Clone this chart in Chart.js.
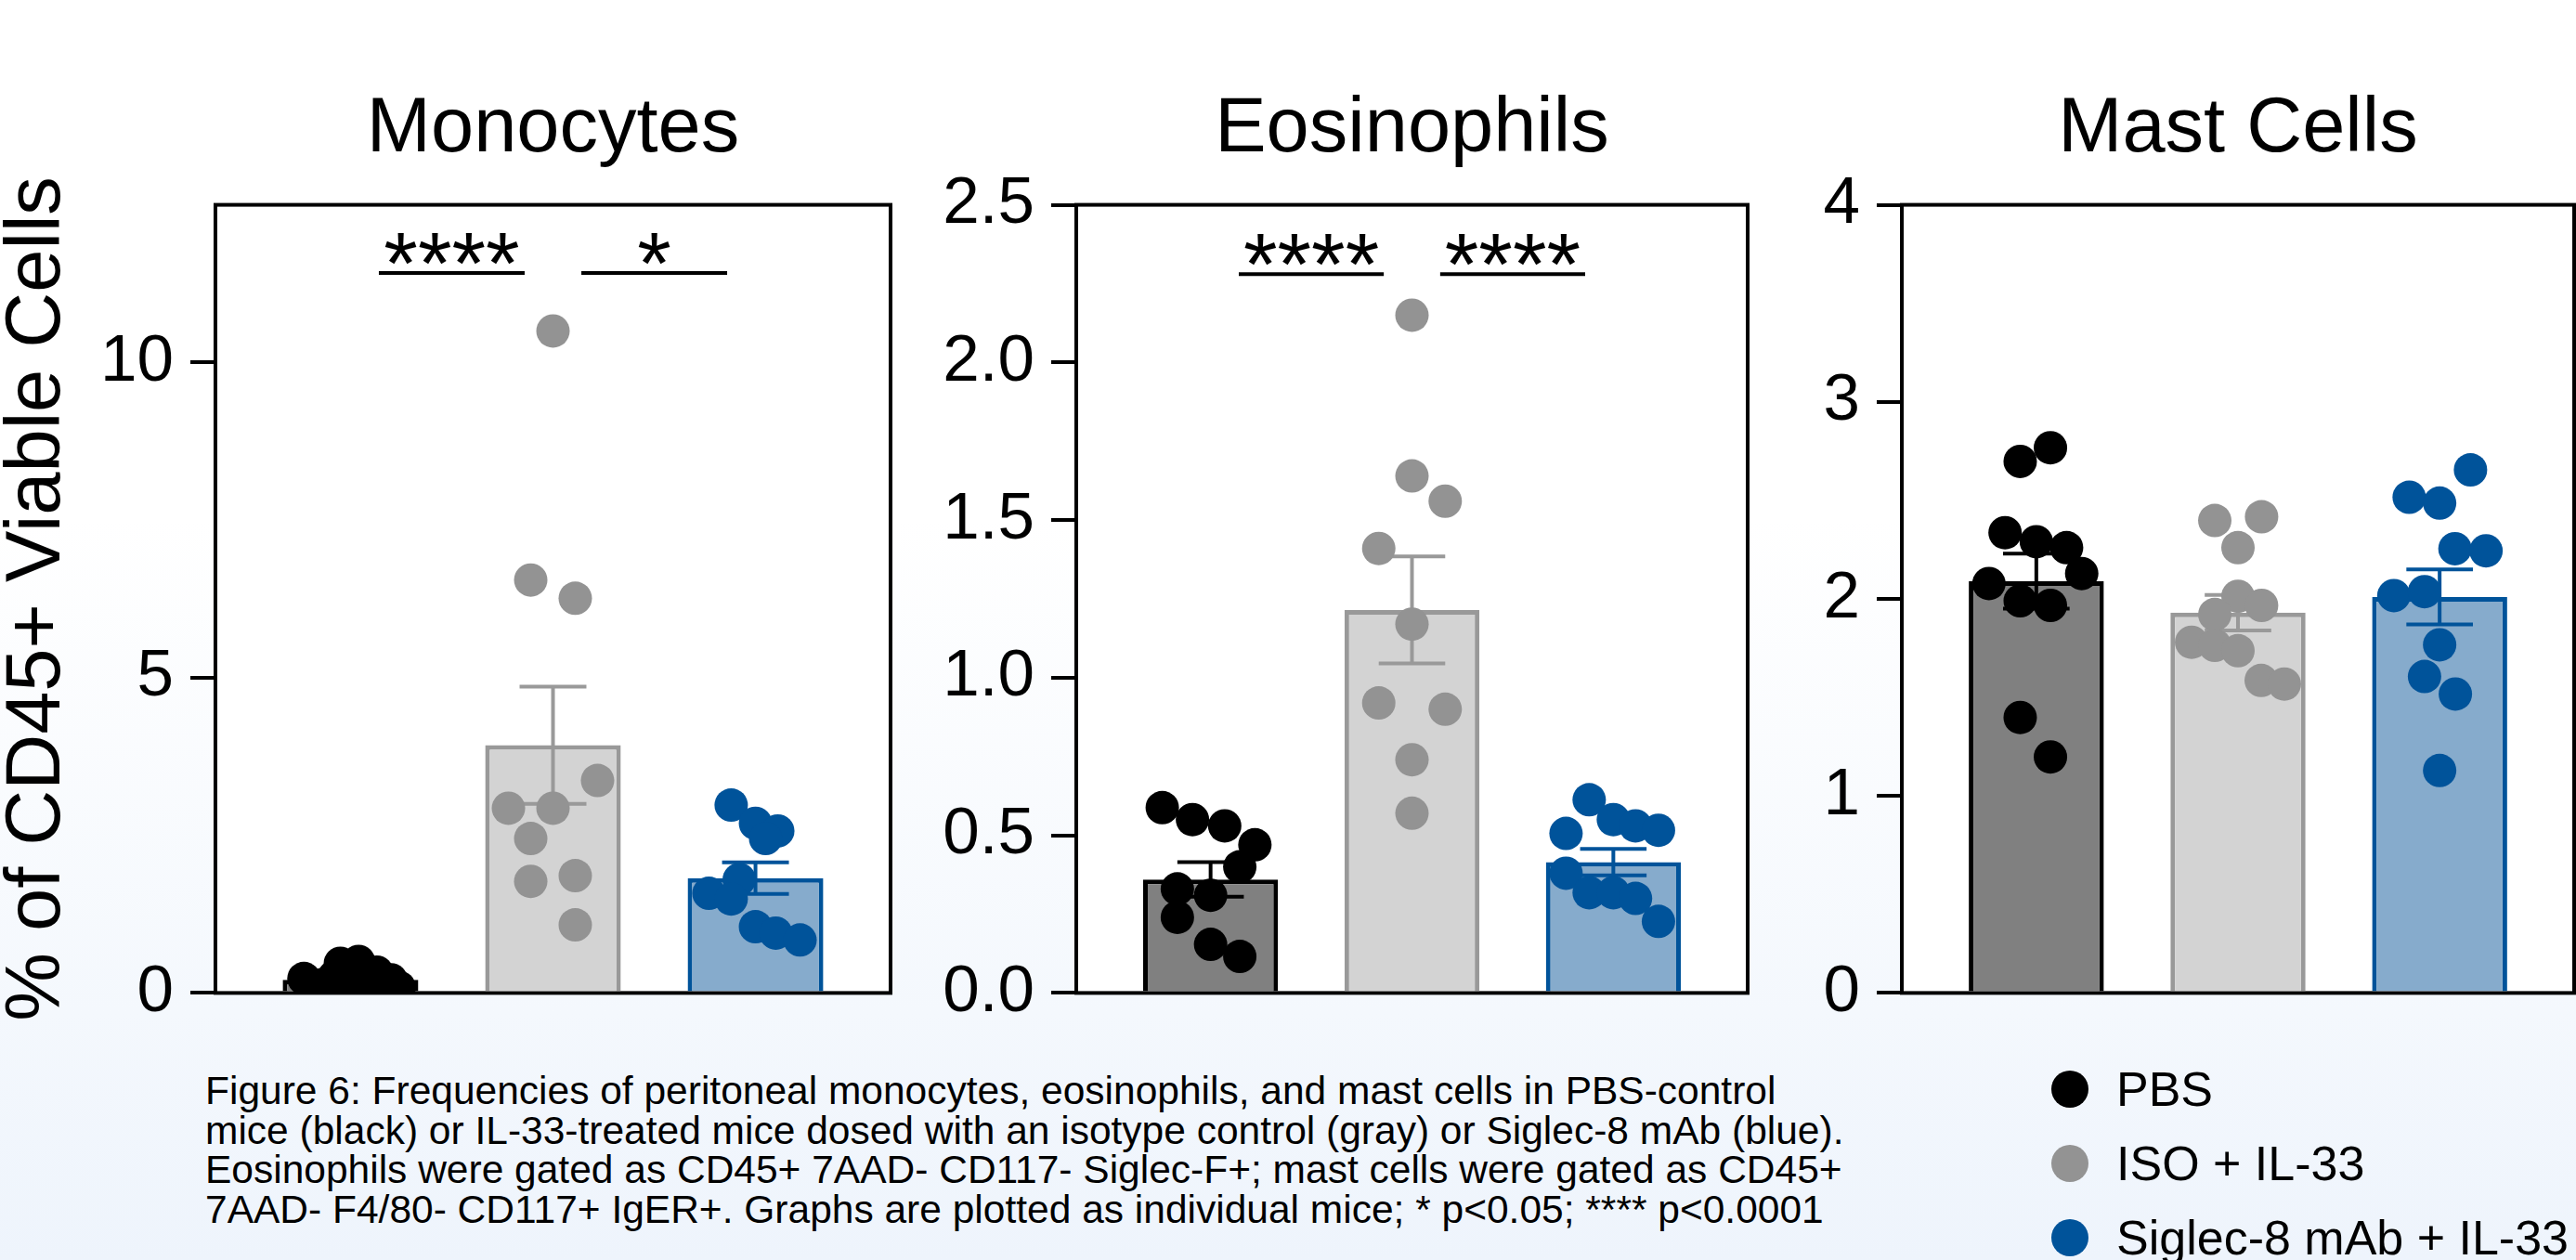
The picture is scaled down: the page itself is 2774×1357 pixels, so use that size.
<!DOCTYPE html>
<html>
<head>
<meta charset="utf-8">
<script src="https://cdn.jsdelivr.net/npm/chart.js@4.4.1/dist/chart.umd.min.js"></script>
<style>
  html, body { margin: 0; padding: 0; width: 2774px; height: 1357px; overflow: hidden; }
  body {
    position: relative;
    font-family: "Liberation Sans", Arial, sans-serif;
    background: linear-gradient(to bottom, #ffffff 0px, #ffffff 560px, #f4f8fd 1090px, #eef4fc 1357px);
  }
  canvas { position: absolute; top: 0; }
  #caption { position: absolute; left: 221px; top: 1154px; font-size: 42.5px; line-height: 42.5px; color: #000; white-space: nowrap; }
  #legend { position: absolute; left: 2209px; top: 1133px; }
  .leg-row { display: flex; align-items: center; height: 80px; font-size: 52px; color: #000; white-space: nowrap; }
  .leg-dot { width: 40px; height: 40px; border-radius: 50%; margin-right: 30px; }
</style>
</head>
<body>
<canvas id="monoChart" width="980" height="1130" style="left:0px"></canvas>
<canvas id="eosChart" width="920" height="1130" style="left:980px"></canvas>
<canvas id="mastChart" width="890" height="1130" style="left:1900px"></canvas>
<div id="caption"></div>
<div id="legend"></div>

<script>
const FONT = '"Liberation Sans", Arial, sans-serif';

// groups and colours
const groupNames = ['PBS', 'ISO + IL-33', 'Siglec-8 mAb + IL-33'];
const pointColors = ['#000000', '#939393', '#00539a'];
const barFills = ['#808080', '#d3d3d3', '#86abcc'];
const barEdges = ['#000000', '#999999', '#00539a'];

// Monocytes (% of CD45+ viable cells)
const monoPBS = [0.23, 0.13, 0.47, 0.50, 0.18, 0.33, 0.21, 0.09, 0.11, 0.26];
const monoISO = [10.5, 6.55, 6.26, 3.37, 2.93, 2.93, 2.45, 1.77, 1.86, 1.08];
const monoSiglec = [2.98, 2.69, 2.57, 2.45, 1.80, 1.58, 1.49, 1.05, 0.95, 0.84];
const monoMeans = [0.21, 3.93, 1.82];
const monoSEM = [0.05, 0.93, 0.25];
const monoTicks = [0, 5, 10];

// Eosinophils
const eosPBS = [0.588, 0.55, 0.53, 0.47, 0.40, 0.33, 0.31, 0.24, 0.154, 0.116];
const eosISO = [2.15, 1.64, 1.56, 1.41, 1.17, 0.92, 0.90, 0.74, 0.57];
const eosSiglec = [0.613, 0.506, 0.55, 0.53, 0.516, 0.38, 0.318, 0.318, 0.30, 0.227];
const eosMeans = [0.36, 1.215, 0.415];
const eosSEM = [0.055, 0.17, 0.042];
const eosTicks = [0, 0.5, 1.0, 1.5, 2.0, 2.5];

// Mast cells
const mastPBS = [2.767, 2.698, 2.336, 2.29, 2.26, 2.129, 2.078, 1.99, 1.967, 1.398, 1.198];
const mastISO = [2.398, 2.417, 2.26, 2.013, 1.967, 1.921, 1.78, 1.764, 1.737, 1.586, 1.568];
const mastSiglec = [2.655, 2.516, 2.486, 2.255, 2.244, 2.017, 2.037, 1.767, 1.606, 1.517, 1.129];
const mastMeans = [2.09, 1.93, 2.01];
const mastSEM = [0.14, 0.09, 0.14];
const mastTicks = [0, 1, 2, 3, 4];

// significance brackets: [from group, to group, label]
const monoSig = [[0, 1, '****'], [1, 2, '*']];
const eosSig = [[0, 1, '****'], [1, 2, '****']];

// horizontal scatter of the dots inside each column (category units)
const monoSpread = [
  [-0.23, -0.14, -0.05, 0.04, 0, 0.13, 0.2, 0.24, 0.12, -0.08],
  [0, -0.11, 0.11, 0.22, -0.22, 0, -0.11, -0.11, 0.11, 0.11],
  [-0.12, 0, 0.11, 0.05, -0.08, -0.23, -0.12, 0, 0.1, 0.22]
];
const eosSpread = [
  [-0.24, -0.09, 0.07, 0.22, 0.145, -0.165, 0, -0.165, 0, 0.145],
  [0, 0, 0.165, -0.165, 0, -0.165, 0.165, 0, 0],
  [-0.12, -0.235, 0, 0.11, 0.224, -0.235, -0.12, 0, 0.11, 0.224]
];
const mastSpread = [
  [0.07, -0.08, -0.155, 0, 0.15, 0.225, -0.235, -0.08, 0.07, -0.08, 0.07],
  [-0.115, 0.117, 0, 0, 0.117, -0.115, -0.23, -0.115, 0, 0.115, 0.23],
  [0.153, -0.151, 0, 0.076, 0.23, -0.227, -0.075, 0, -0.075, 0.078, 0]
];

// white plot area, frame, error bars and significance bars
function decorPlugin(p) {
  return {
    id: 'decor',
    beforeDraw(chart) {
      const a = chart.chartArea, ctx = chart.ctx;
      ctx.save();
      ctx.fillStyle = '#ffffff';
      ctx.fillRect(a.left, a.top, a.right - a.left, a.bottom - a.top);
      ctx.restore();
    },
    beforeDatasetsDraw(chart) {
      const a = chart.chartArea, ctx = chart.ctx;
      ctx.save();
      ctx.strokeStyle = '#000';
      ctx.lineWidth = 4;
      ctx.strokeRect(a.left, a.top, a.right - a.left, a.bottom - a.top);
      ctx.restore();
    },
    afterDatasetDraw(chart, args) {
      if (args.meta.type !== 'bar') return;
      const xs = chart.scales.x, ys = chart.scales.y, ctx = chart.ctx;
      const half = xs.getPixelForValue(0.165) - xs.getPixelForValue(0);
      ctx.save();
      ctx.lineWidth = 4;
      args.meta.data.forEach((el, g) => {
        const top = ys.getPixelForValue(p.means[g] + p.sem[g]);
        const bot = ys.getPixelForValue(p.means[g] - p.sem[g]);
        ctx.strokeStyle = barEdges[g];
        ctx.beginPath();
        ctx.moveTo(el.x, top); ctx.lineTo(el.x, bot);
        ctx.moveTo(el.x - half, top); ctx.lineTo(el.x + half, top);
        ctx.moveTo(el.x - half, bot); ctx.lineTo(el.x + half, bot);
        ctx.stroke();
      });
      ctx.restore();
    },
    afterDraw(chart) {
      if (!p.sig) return;
      const xs = chart.scales.x, ys = chart.scales.y, ctx = chart.ctx;
      const y = ys.getPixelForValue(p.sigY);
      ctx.save();
      ctx.strokeStyle = '#000';
      ctx.fillStyle = '#000';
      ctx.lineWidth = 4;
      ctx.font = '94px ' + FONT;
      ctx.textAlign = 'center';
      ctx.textBaseline = 'alphabetic';
      p.sig.forEach(([a, b, label]) => {
        const x1 = xs.getPixelForValue(a + 0.14);
        const x2 = xs.getPixelForValue(b - 0.14);
        ctx.beginPath();
        ctx.moveTo(x1, y); ctx.lineTo(x2, y);
        ctx.stroke();
        ctx.fillText(label, (x1 + x2) / 2, y + 22);
      });
      ctx.restore();
    }
  };
}

function drawPanel(id, p) {
  const dots = p.values.map((vals, g) => ({
    type: 'scatter',
    data: vals.map((v, k) => ({ x: g + p.spread[g][k], y: v })),
    backgroundColor: pointColors[g],
    borderWidth: 0,
    pointRadius: 18,
    pointHoverRadius: 18,
    order: 1
  }));

  new Chart(document.getElementById(id), {
    type: 'bar',
    data: {
      datasets: [{
        data: p.means.map((m, g) => ({ x: g, y: m })),
        backgroundColor: barFills,
        borderColor: barEdges,
        borderWidth: 5,
        barPercentage: 0.67,
        categoryPercentage: 1,
        order: 2
      }, ...dots]
    },
    options: {
      responsive: false,
      animation: false,
      events: [],
      layout: { padding: { left: 0, right: p.padRight, top: 0, bottom: 44 } },
      plugins: {
        legend: { display: false },
        tooltip: { enabled: false },
        title: {
          display: true,
          text: p.title,
          fullSize: false,
          color: '#000',
          font: { family: FONT, size: 83, weight: 'normal', lineHeight: 1.2 },
          padding: { top: 90, bottom: 31 }
        }
      },
      scales: {
        x: {
          type: 'linear', min: -0.667, max: 2.667, offset: false, display: false,
          afterBuildTicks: s => { s.ticks = groupNames.map((n, g) => ({ value: g })); }
        },
        y: {
          min: 0,
          max: p.yMax,
          afterBuildTicks: s => { s.ticks = p.ticks.map(v => ({ value: v })); },
          afterFit: s => { s.width = p.axisWidth; },
          ticks: {
            color: '#000',
            padding: 18,
            font: { family: FONT, size: 71 },
            callback: v => p.fmt(v)
          },
          grid: { drawOnChartArea: false, drawTicks: true, tickLength: 27, lineWidth: 4, color: '#000' },
          border: { display: false },
          title: {
            display: !!p.yTitle,
            text: p.yTitle || '',
            color: '#000',
            font: { family: FONT, size: 83, lineHeight: 1 },
            padding: 0
          }
        }
      }
    },
    plugins: [decorPlugin(p)]
  });
}

drawPanel('monoChart', {
  title: 'Monocytes',
  values: [monoPBS, monoISO, monoSiglec],
  spread: monoSpread,
  means: monoMeans, sem: monoSEM,
  yMax: 12.5, ticks: monoTicks, fmt: v => String(v),
  sig: monoSig, sigY: 11.42,
  yTitle: '% of CD45+ Viable Cells',
  axisWidth: 232, padRight: 21
});

drawPanel('eosChart', {
  title: 'Eosinophils',
  values: [eosPBS, eosISO, eosSiglec],
  spread: eosSpread,
  means: eosMeans, sem: eosSEM,
  yMax: 2.5, ticks: eosTicks, fmt: v => v.toFixed(1),
  sig: eosSig, sigY: 2.28,
  axisWidth: 179, padRight: 14
});

drawPanel('mastChart', {
  title: 'Mast Cells',
  values: [mastPBS, mastISO, mastSiglec],
  spread: mastSpread,
  means: mastMeans, sem: mastSEM,
  yMax: 4, ticks: mastTicks, fmt: v => String(v),
  axisWidth: 148, padRight: 13
});

// caption
const captionLines = [
  'Figure 6: Frequencies of peritoneal monocytes, eosinophils, and mast cells in PBS-control',
  'mice (black) or IL-33-treated mice dosed with an isotype control (gray) or Siglec-8 mAb (blue).',
  'Eosinophils were gated as CD45+ 7AAD- CD117- Siglec-F+; mast cells were gated as CD45+',
  '7AAD- F4/80- CD117+ IgER+. Graphs are plotted as individual mice; * p<0.05; **** p<0.0001'
];
const cap = document.getElementById('caption');
captionLines.forEach(t => {
  const d = document.createElement('div');
  d.textContent = t;
  cap.appendChild(d);
});

// legend
const leg = document.getElementById('legend');
groupNames.forEach((name, g) => {
  const row = document.createElement('div');
  row.className = 'leg-row';
  const dot = document.createElement('span');
  dot.className = 'leg-dot';
  dot.style.background = pointColors[g];
  const txt = document.createElement('span');
  txt.textContent = name;
  row.appendChild(dot);
  row.appendChild(txt);
  leg.appendChild(row);
});
</script>
</body>
</html>
